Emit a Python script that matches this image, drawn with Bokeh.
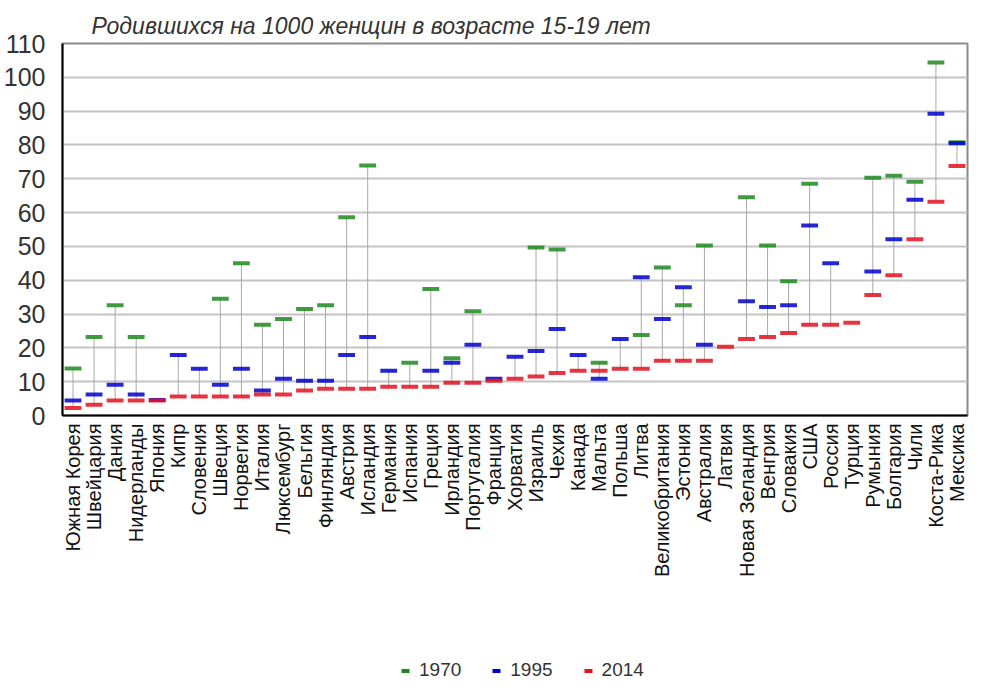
import numpy as np
from bokeh.plotting import figure
from bokeh.layouts import column
from bokeh.models import (ColumnDataSource, FactorRange, Range1d, Legend, LegendItem,
                          FixedTicker)
from bokeh.embed import file_html
from bokeh.resources import INLINE

nan = float("nan")

title_text = "Родившихся на 1000 женщин в возрасте 15-19 лет"

countries = ["Южная Корея", "Швейцария", "Дания", "Нидерланды", "Япония", "Кипр",
             "Словения", "Швеция", "Норвегия", "Италия", "Люксембург", "Бельгия",
             "Финляндия", "Австрия", "Исландия", "Германия", "Испания", "Греция",
             "Ирландия", "Португалия", "Франция", "Хорватия", "Израиль", "Чехия",
             "Канада", "Мальта", "Польша", "Литва", "Великобритания", "Эстония",
             "Австралия", "Латвия", "Новая Зеландия", "Венгрия", "Словакия", "США",
             "Россия", "Турция", "Румыния", "Болгария", "Чили", "Коста-Рика", "Мексика"]

y1970 = [13.9, 23.2, 32.6, 23.2, nan, nan, nan, 34.5, 45.0, 26.8, 28.5, 31.5,
         32.6, 58.6, 73.9, nan, 15.6, 37.4, 16.9, 30.8, nan, nan, 49.7, 49.1,
         nan, 15.6, nan, 23.8, 43.8, 32.6, 50.3, nan, 64.5, 50.3, 39.7, 68.5,
         nan, nan, 70.3, 70.9, 69.1, 104.4, 80.8]

y1995 = [4.4, 6.2, 9.1, 6.2, 4.6, 17.9, 13.8, 9.1, 13.8, 7.4, 10.9, 10.3,
         10.3, 17.9, 23.2, 13.2, nan, 13.2, 15.6, 20.9, 10.9, 17.4, 19.1, 25.6,
         17.9, 10.9, 22.6, 40.9, 28.5, 37.9, 20.9, nan, 33.8, 32.1, 32.6, 56.2,
         45.0, nan, 42.6, 52.1, 63.8, 89.2, 80.5]

y2014 = [2.2, 3.2, 4.4, 4.4, 4.4, 5.6, 5.6, 5.6, 5.6, 6.2, 6.2, 7.4,
         7.9, 7.9, 7.9, 8.5, 8.5, 8.5, 9.7, 9.7, 10.3, 10.9, 11.5, 12.6,
         13.2, 13.2, 13.8, 13.8, 16.2, 16.2, 16.2, 20.3, 22.6, 23.2, 24.4, 26.8,
         26.8, 27.4, 35.6, 41.5, 52.1, 63.2, 73.8]

years = ["1970", "1995", "2014"]
colors = ["#1f8a1f", "#0000cc", "#e3101e"]
y_ticks = list(range(0, 111, 10))

arr = np.array([y1970, y1995, y2014], dtype=float)
lo = np.nanmin(arr, axis=0)
hi = np.nanmax(arr, axis=0)

# ---------------- main chart ----------------
p = figure(x_range=FactorRange(*countries), y_range=Range1d(0, 110),
           width=969, height=641, output_backend="svg", toolbar_location=None,
           min_border_left=62, min_border_right=2, min_border_top=43,
           min_border_bottom=226, background_fill_color="white",
           border_fill_color="white")

p.title.text = title_text
p.title.text_font = "Liberation Sans"
p.title.text_font_style = "italic"
p.title.text_font_size = "23px"
p.title.text_color = "#333333"
p.title.align = "left"
p.title.offset = 29
p.title.standoff = 10

p.outline_line_color = "#8c8c8c"
p.outline_line_width = 2

p.xgrid.visible = False
p.ygrid.grid_line_color = "#c4c4c4"
p.ygrid.grid_line_width = 2
p.yaxis.ticker = FixedTicker(ticks=y_ticks)

for ax in (p.xaxis[0], p.yaxis[0]):
    ax.axis_line_color = "black"
    ax.axis_line_width = 2
    ax.major_tick_line_color = None
    ax.minor_tick_line_color = None
    ax.major_tick_out = 0
    ax.major_tick_in = 0
    ax.major_label_text_font = "Liberation Sans"

p.yaxis.major_label_text_font_size = "25px"
p.yaxis.major_label_text_color = "#333333"
p.yaxis.major_label_standoff = 17

p.xaxis.major_label_orientation = np.pi / 2
p.xaxis.major_label_text_font_size = "20px"
p.xaxis.major_label_text_color = "#111111"
p.xaxis.major_label_standoff = 8

p.segment(x0=countries, y0=lo, x1=countries, y1=hi,
          line_color="#a8a8a8", line_width=1)

for yr, col, vals in zip(years, colors, [y1970, y1995, y2014]):
    src = ColumnDataSource(dict(x=countries, y=vals))
    p.rect(x="x", y="y", width=0.8, height=4, height_units="screen",
           source=src, fill_color=col, line_color=None, fill_alpha=0.85)

# ---------------- legend strip ----------------
q = figure(width=969, height=40, output_backend="svg", toolbar_location=None,
           x_range=Range1d(0, 1), y_range=Range1d(0, 1),
           x_axis_type=None, y_axis_type=None, min_border=0,
           min_border_left=0, min_border_right=0, min_border_top=0,
           min_border_bottom=0, outline_line_color=None,
           background_fill_color="white", border_fill_color="white")
q.xgrid.visible = False
q.ygrid.visible = False

items = []
for yr, col in zip(years, colors):
    r = q.rect(x=[nan], y=[nan], width=1, height=1, fill_color=col,
               line_color=None)
    items.append(LegendItem(label=yr, renderers=[r]))

legend = Legend(items=items, orientation="horizontal", location=(338, 0),
                padding=0, margin=0, border_line_color=None,
                background_fill_alpha=0, glyph_width=10, glyph_height=5,
                label_standoff=9, spacing=30, label_text_font="Liberation Sans",
                label_text_font_size="19px", label_text_color="#333333")
q.add_layout(legend, "center")

layout = column(p, q, spacing=0)
open("out.html", "w").write(file_html(layout, INLINE))
